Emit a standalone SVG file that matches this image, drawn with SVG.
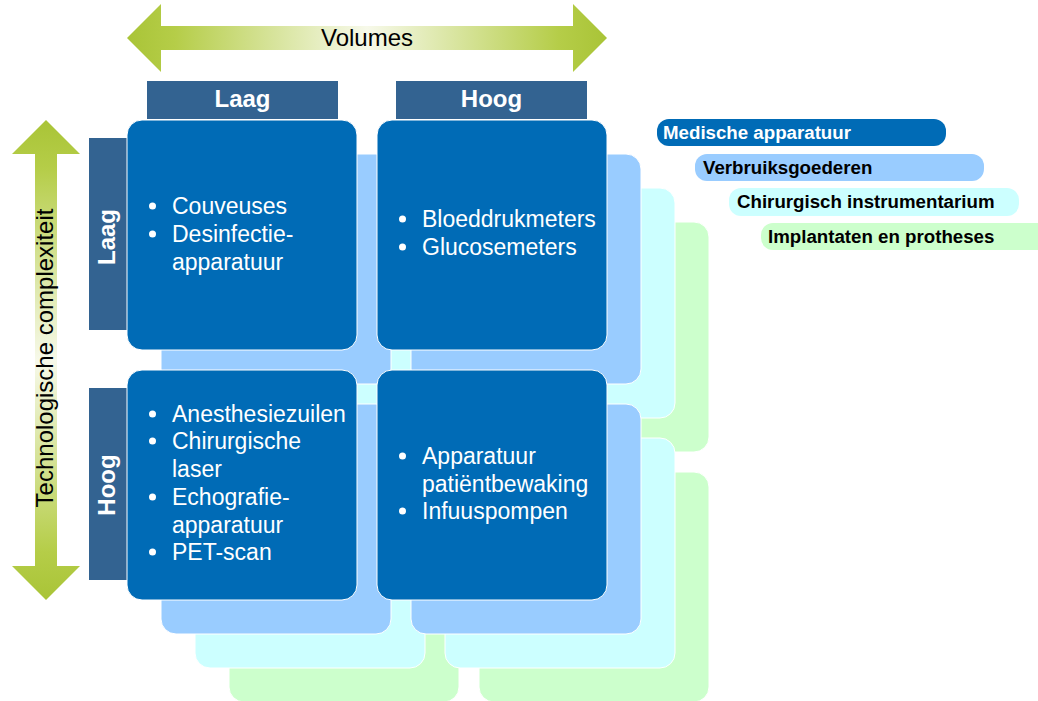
<svg xmlns="http://www.w3.org/2000/svg" width="1038" height="701" viewBox="0 0 1038 701">
<defs>
<linearGradient id="gh" x1="127" y1="0" x2="607" y2="0" gradientUnits="userSpaceOnUse">
<stop offset="0" stop-color="#A9C437"/><stop offset="0.1" stop-color="#B5CD48"/><stop offset="0.5" stop-color="#F7F9EA"/><stop offset="0.9" stop-color="#B5CD48"/><stop offset="1" stop-color="#A9C437"/>
</linearGradient>
<linearGradient id="gv" x1="0" y1="120" x2="0" y2="600" gradientUnits="userSpaceOnUse">
<stop offset="0" stop-color="#A9C437"/><stop offset="0.1" stop-color="#B5CD48"/><stop offset="0.5" stop-color="#F7F9EA"/><stop offset="0.9" stop-color="#B5CD48"/><stop offset="1" stop-color="#A9C437"/>
</linearGradient>
<style>
.g{fill:#CCFFCC;stroke:#fff;stroke-width:1}
.c{fill:#CCFFFF;stroke:#fff;stroke-width:1}
.l{fill:#99CCFF;stroke:#fff;stroke-width:1}
.d{fill:#006BB6;stroke:#fff;stroke-width:1}
.hd{fill:#336391}
.ht{font-family:"Liberation Sans",Arial,sans-serif;font-weight:bold;font-size:24px;fill:#fff;text-anchor:middle}
.bt{font-family:"Liberation Sans",Arial,sans-serif;font-size:23px;fill:#fff}
.ax{font-family:"Liberation Sans",Arial,sans-serif;font-size:24px;fill:#000;text-anchor:middle}
.lg{font-family:"Liberation Sans",Arial,sans-serif;font-weight:bold;font-size:18.7px}
</style>
</defs>
<rect width="1038" height="701" fill="#fff"/>

<g id="layers">
<rect class="g" x="229" y="222" width="230" height="230" rx="15"/>
<rect class="g" x="479" y="222" width="230" height="230" rx="15"/>
<rect class="g" x="229" y="472" width="230" height="230" rx="15"/>
<rect class="g" x="479" y="472" width="230" height="230" rx="15"/>
<rect class="c" x="195" y="188" width="230" height="230" rx="15"/>
<rect class="c" x="445" y="188" width="230" height="230" rx="15"/>
<rect class="c" x="195" y="438" width="230" height="230" rx="15"/>
<rect class="c" x="445" y="438" width="230" height="230" rx="15"/>
<rect class="l" x="161" y="154" width="230" height="230" rx="15"/>
<rect class="l" x="411" y="154" width="230" height="230" rx="15"/>
<rect class="l" x="161" y="404" width="230" height="230" rx="15"/>
<rect class="l" x="411" y="404" width="230" height="230" rx="15"/>
</g>

<g id="arrow-volumes">
<polygon fill="url(#gh)" points="127,38 161,4 161,26 573,26 573,4 607,38 573,72 573,50 161,50 161,72"/>
<text class="ax" x="367" y="46">Volumes</text>
</g>
<g id="arrow-complexiteit">
<polygon fill="url(#gv)" points="46,120 80,154 57,154 57,566 80,566 46,600 12,566 35,566 35,154 12,154"/>
<text class="ax" transform="translate(53,358) rotate(-90)">Technologische complexiteit</text>
</g>

<g id="header-laag-top"><rect class="hd" x="147" y="81" width="191" height="38"/><text class="ht" x="242.5" y="107">Laag</text></g>
<g id="header-hoog-top"><rect class="hd" x="396" y="81" width="191" height="38"/><text class="ht" x="491.5" y="107">Hoog</text></g>
<g id="header-laag-left"><rect class="hd" x="89" y="138" width="38" height="192"/><text class="ht" transform="translate(115,237) rotate(-90)">Laag</text></g>
<g id="header-hoog-left"><rect class="hd" x="89" y="388" width="38" height="192"/><text class="ht" transform="translate(115,485) rotate(-90)">Hoog</text></g>

<g id="box-laag-laag">
<rect class="d" x="127" y="120" width="230" height="230" rx="15"/>
<circle cx="152.5" cy="206" r="3.5" fill="#fff"/><circle cx="152.5" cy="234" r="3.5" fill="#fff"/>
<text class="bt" x="172" y="214">Couveuses</text>
<text class="bt" x="172" y="242">Desinfectie-</text>
<text class="bt" x="172" y="270">apparatuur</text>
</g>
<g id="box-hoog-laag">
<rect class="d" x="377" y="120" width="230" height="230" rx="15"/>
<circle cx="402.5" cy="219" r="3.5" fill="#fff"/><circle cx="402.5" cy="247" r="3.5" fill="#fff"/>
<text class="bt" x="422" y="227">Bloeddrukmeters</text>
<text class="bt" x="422" y="255">Glucosemeters</text>
</g>
<g id="box-laag-hoog">
<rect class="d" x="127" y="370" width="230" height="230" rx="15"/>
<circle cx="152.5" cy="414" r="3.5" fill="#fff"/><circle cx="152.5" cy="441" r="3.5" fill="#fff"/><circle cx="152.5" cy="497" r="3.5" fill="#fff"/><circle cx="152.5" cy="552" r="3.5" fill="#fff"/>
<text class="bt" x="172" y="422">Anesthesiezuilen</text>
<text class="bt" x="172" y="449">Chirurgische</text>
<text class="bt" x="172" y="477">laser</text>
<text class="bt" x="172" y="505">Echografie-</text>
<text class="bt" x="172" y="533">apparatuur</text>
<text class="bt" x="172" y="560">PET-scan</text>
</g>
<g id="box-hoog-hoog">
<rect class="d" x="377" y="370" width="230" height="230" rx="15"/>
<circle cx="402.5" cy="456" r="3.5" fill="#fff"/><circle cx="402.5" cy="511" r="3.5" fill="#fff"/>
<text class="bt" x="422" y="464">Apparatuur</text>
<text class="bt" x="422" y="492">patiëntbewaking</text>
<text class="bt" x="422" y="519">Infuuspompen</text>
</g>

<g id="legend-medische"><rect x="657" y="119" width="289" height="27" rx="12" fill="#006BB6"/><text class="lg" x="663" y="139" fill="#fff">Medische apparatuur</text></g>
<g id="legend-verbruiksgoederen"><rect x="695" y="154" width="289" height="27" rx="12" fill="#99CCFF"/><text class="lg" x="703" y="174" fill="#000">Verbruiksgoederen</text></g>
<g id="legend-chirurgisch"><rect x="729" y="188" width="290" height="28" rx="12" fill="#CCFFFF"/><text class="lg" x="737" y="208" fill="#000">Chirurgisch instrumentarium</text></g>
<g id="legend-implantaten"><rect x="761" y="223" width="290" height="27" rx="12" fill="#CCFFCC"/><text class="lg" x="768" y="243" fill="#000">Implantaten en protheses</text></g>
</svg>
